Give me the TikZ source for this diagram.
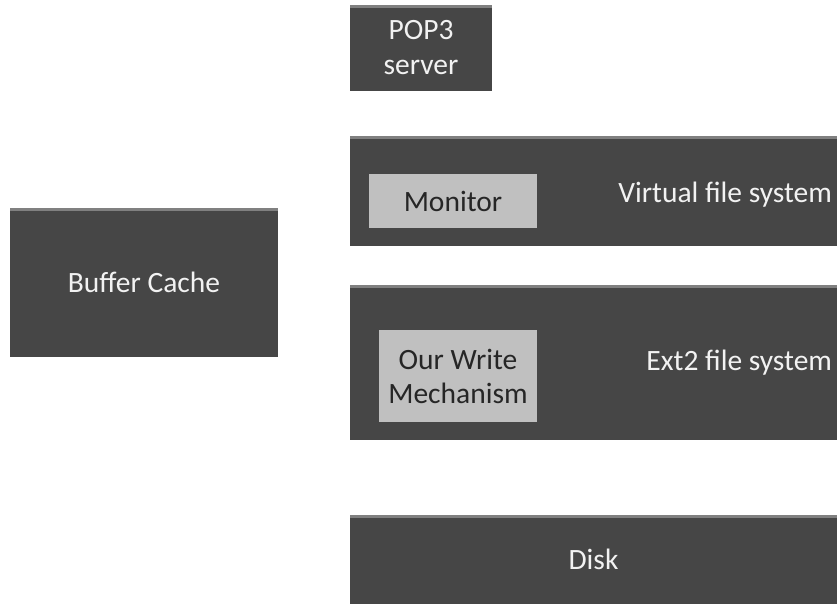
\documentclass[tikz,border=0pt]{standalone}
\usepackage{fontspec}
\setmainfont{Carlito}
\usetikzlibrary{positioning}

\definecolor{boxgray}{HTML}{464646}
\definecolor{innergray}{HTML}{C0C0C0}
\definecolor{edgegray}{HTML}{808080}

\tikzset{
  darkbox/.style={fill=boxgray, draw=none, text=white!95!black, inner sep=0pt, align=center,
    font=\fontsize{29.5}{35}\selectfont,
    path picture={\fill[edgegray] (path picture bounding box.north west) rectangle ([yshift=-3pt]path picture bounding box.north east);}},
  lightbox/.style={fill=innergray, draw=none, text=black!85, inner sep=0pt, align=center,
    font=\fontsize{29.5}{34}\selectfont},
  boxlabel/.style={text=white!95!black, inner sep=0pt, font=\fontsize{29.5}{35}\selectfont}
}

\begin{document}
\begin{tikzpicture}[x=1pt,y=-1pt]
	\useasboundingbox[fill=white] (0,0) rectangle (837,604);
	% left side
	\node[darkbox, minimum width=268pt, minimum height=149pt] (cache) at (144,282.5) {Buffer Cache};
	% layers on the right
	\node[darkbox, minimum width=142pt, minimum height=86pt] (pop) at (421,48) {POP3\\server};
	\node[darkbox, minimum width=487pt, minimum height=110pt] (vfs) at (593.5,191) {};
	\node[darkbox, minimum width=487pt, minimum height=155pt] (ext) at (593.5,362.5) {};
	\node[darkbox, minimum width=487pt, minimum height=89pt] (disk) at (593.5,559.5) {Disk};
	% labels of the layers
	\node[boxlabel, anchor=east] (vfstext) at ([xshift=-5pt,yshift=-4pt]vfs.east) {Virtual file system};
	\node[boxlabel, anchor=east] (exttext) at ([xshift=-5pt,yshift=0pt]ext.east) {Ext2 file system};
	% inner boxes
	\node[lightbox, minimum width=168pt, minimum height=54pt] (monitor) at (453,201) {Monitor};
	\node[lightbox, minimum width=158pt, minimum height=92pt] (write) at (458,376) {Our Write\\Mechanism};
\end{tikzpicture}
\end{document}
